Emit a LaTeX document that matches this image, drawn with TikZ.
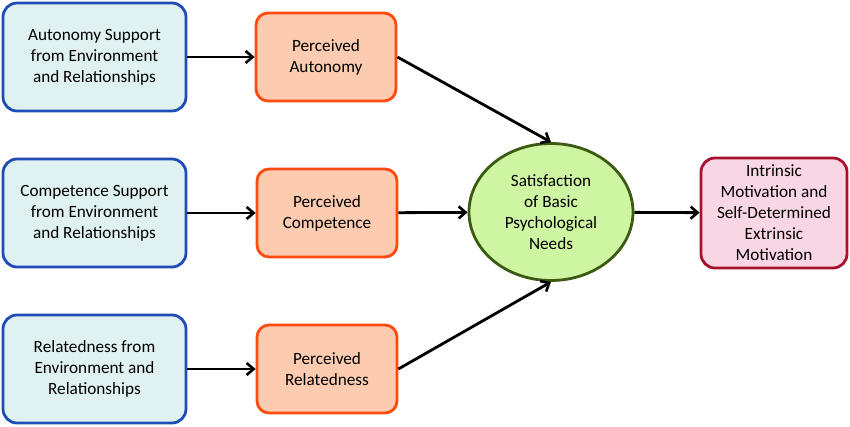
\documentclass[tikz,border=0pt]{standalone}
\usepackage{fontspec}
\setmainfont{Carlito}
\usetikzlibrary{arrows.meta,shapes.geometric}
\definecolor{bluefill}{HTML}{E0F1F1}
\definecolor{blueline}{HTML}{1F4DB5}
\definecolor{orfill}{HTML}{FCCBB0}
\definecolor{orline}{HTML}{FF4A10}
\definecolor{grfill}{HTML}{CEF5A2}
\definecolor{grline}{HTML}{3B5A12}
\definecolor{pkfill}{HTML}{F9D6E3}
\definecolor{pkline}{HTML}{A8102E}
\tikzset{
  base/.style={rounded corners=14pt, line width=2.8pt, align=center, inner sep=0pt,
    font=\fontsize{17.2}{21}\selectfont},
  bluebox/.style={base, draw=blueline, fill=bluefill, minimum width=183pt, minimum height=108pt},
  orbox/.style={base, draw=orline, fill=orfill, minimum width=140pt, minimum height=88pt, rounded corners=12pt},
  pkbox/.style={base, draw=pkline, fill=pkfill, minimum width=146pt, minimum height=110pt},
  need/.style={ellipse, draw=grline, fill=grfill, line width=2.8pt, minimum width=164pt, minimum height=137pt,
    align=center, inner sep=0pt, font=\fontsize{17.2}{21}\selectfont},
  conn/.style={line width=2.8pt, -{Straight Barb[length=7pt,width=12pt,line width=2.6pt]}}
}
\begin{document}
\begin{tikzpicture}[x=1pt,y=-1pt]
\useasboundingbox (0,0) rectangle (850,427);
\node[bluebox] (b1) at (94.5,57) {Autonomy Support\\from Environment\\and Relationships};
\node[bluebox] (b2) at (94.5,213) {Competence Support\\from Environment\\and Relationships};
\node[bluebox] (b3) at (94.5,369) {Relatedness from\\Environment and\\Relationships};
\node[orbox] (o1) at (326,57) {Perceived\\Autonomy};
\node[orbox] (o2) at (327,213) {Perceived\\Competence};
\node[orbox] (o3) at (327,369) {Perceived\\Relatedness};
\node[need] (n) at (551,212) {Satisfaction\\of Basic\\Psychological\\Needs};
\node[pkbox] (p) at (774,213) {Intrinsic\\Motivation and\\Self-Determined\\Extrinsic\\Motivation};
\draw[conn] (b1) -- (o1);
\draw[conn] (b2) -- (o2);
\draw[conn] (b3) -- (o3);
\draw[conn] (o1.east) -- (n.north);
\draw[conn] (o2) -- (n);
\draw[conn] (o3.east) -- (n.south);
\draw[conn] (n) -- (p);
\end{tikzpicture}
\end{document}
